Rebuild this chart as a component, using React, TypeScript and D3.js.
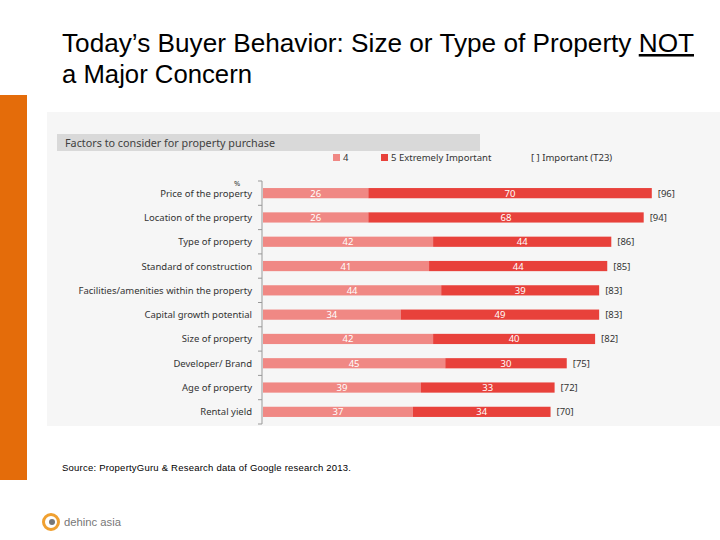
import React from "react";
import * as d3 from "d3";

const categories = [
  "Price of the property",
  "Location of the property",
  "Type of property",
  "Standard of construction",
  "Facilities/amenities within the property",
  "Capital growth potential",
  "Size of property",
  "Developer/ Brand",
  "Age of property",
  "Rental yield",
];
const important4 = [26, 26, 42, 41, 44, 34, 42, 45, 39, 37];
const extremely5 = [70, 68, 44, 44, 39, 49, 40, 30, 33, 34];
const t2b = [96, 94, 86, 85, 83, 83, 82, 75, 72, 70];
const legendLabels = ["4", "5 Extremely Important", "[ ] Important (T23)"];

const C4 = "#f08884";
const C5 = "#e8413b";

export default function App() {
  const x = d3.scaleLinear().domain([0, 100]).range([263, 668]);
  const y = d3.scaleBand().domain(categories).range([181, 424]).paddingInner(0.58).paddingOuter(0.29);
  const bw = y.bandwidth();
  const step = y.step();
  const boundaries = d3.range(categories.length + 1).map((i) => 181 + i * step);

  return (
    <svg width={720} height={540} style={{ position: "absolute", left: 0, top: 0, background: "#fff" }}
      fontFamily="'Liberation Sans', Arial, sans-serif">
      <rect x={0} y={95} width={27} height={385} fill="#e46c0a" />
      <text x={62} y={52} fontSize={25.5} fill="#000" textLength={632} lengthAdjust="spacingAndGlyphs">
        Today’s Buyer Behavior: Size or Type of Property <tspan textDecoration="underline">NOT</tspan>
      </text>
      <text x={62} y={83} fontSize={25.5} fill="#000" textLength={190} lengthAdjust="spacingAndGlyphs">a Major Concern</text>

      <rect x={47} y={112} width={673} height={314} fill="#f6f6f6" />
      <rect x={57} y={134} width={423} height={17} fill="#d9d9d9" />
      <text x={65} y={147} fontSize={11} fill="#404040" fontFamily="'Noto Sans', sans-serif" textLength={210} lengthAdjust="spacingAndGlyphs">
        Factors to consider for property purchase
      </text>

      <g fontSize={9.5} fill="#333" fontFamily="'Noto Sans', sans-serif">
        <rect x={333} y={154} width={7} height={7} fill={C4} />
        <text x={343} y={161}>{legendLabels[0]}</text>
        <rect x={381} y={154} width={7} height={7} fill={C5} />
        <text x={391} y={161}>{legendLabels[1]}</text>
        <text x={531} y={161}>{legendLabels[2]}</text>
      </g>

      <text x={237} y={186} fontSize={7.5} fill="#333" textAnchor="middle" fontFamily="'Noto Sans', sans-serif">%</text>
      <line x1={262} x2={262} y1={boundaries[0]} y2={boundaries[boundaries.length - 1]} stroke="#999" />
      {boundaries.map((b, i) => (
        <line key={i} x1={258} x2={262} y1={b} y2={b} stroke="#999" />
      ))}

      <g fontFamily="'Noto Sans', sans-serif" fontSize={9.5}>
        {categories.map((c, i) => {
          const yy = y(c)!;
          const cy = yy + bw / 2;
          return (
            <g key={c}>
              <text x={252} y={cy + 3.5} textAnchor="end" fill="#333">{c}</text>
              <rect x={x(0)} y={yy} width={x(important4[i]) - x(0)} height={bw} fill={C4} />
              <rect x={x(important4[i])} y={yy} width={x(important4[i] + extremely5[i]) - x(important4[i])} height={bw} fill={C5} />
              <text x={(x(0) + x(important4[i])) / 2} y={cy + 3.5} textAnchor="middle" fill="#fff">{important4[i]}</text>
              <text x={(x(important4[i]) + x(important4[i] + extremely5[i])) / 2} y={cy + 3.5} textAnchor="middle" fill="#fff">{extremely5[i]}</text>
              <text x={x(important4[i] + extremely5[i]) + 6} y={cy + 3.5} fill="#333">[{t2b[i]}]</text>
            </g>
          );
        })}
      </g>

      <text x={62} y={471} fontSize={9.5} fill="#000" textLength={289} lengthAdjust="spacing">Source: PropertyGuru &amp; Research data of Google research 2013.</text>

      <circle cx={51} cy={522} r={7.5} fill="none" stroke="#f0a030" strokeWidth={3} />
      <circle cx={52} cy={522} r={3} fill="#777" />
      <text x={64} y={526} fontSize={10} fill="#777" textLength={57} lengthAdjust="spacingAndGlyphs">dehinc asia</text>
    </svg>
  );
}
